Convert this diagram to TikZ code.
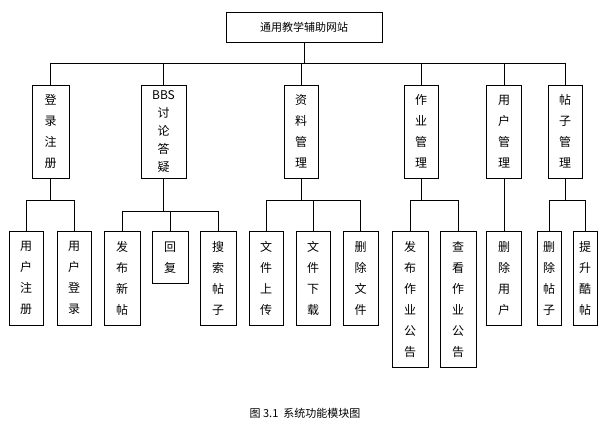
\documentclass[tikz,border=0pt]{standalone}
\usepackage{fontspec}
\setmainfont{Noto Sans CJK SC}
\tikzset{
  box/.style={draw, semithick, align=center, inner sep=0pt, font=\fontsize{12}{21}\selectfont},
  link/.style={draw, semithick}
}
\begin{document}
\begin{tikzpicture}[x=1pt,y=-1pt]
\useasboundingbox (0,0) rectangle (611,436);
% root
\node[box, minimum width=156, minimum height=30, font=\fontsize{11}{13}\selectfont] (root) at (304,27) {通用教学辅助网站};
% level 2
\node[box, minimum width=37, minimum height=93] (login) at (50.5,131.5) {登\\录\\注\\册};
\node[box, minimum width=45, minimum height=93, font=\fontsize{12}{18}\selectfont] (bbs) at (163.5,131.5) {BBS\\讨\\论\\答\\疑};
\node[box, minimum width=34, minimum height=93] (res) at (301,131.5) {资\\料\\管\\理};
\node[box, minimum width=34, minimum height=93] (hw) at (421,131.5) {作\\业\\管\\理};
\node[box, minimum width=35, minimum height=93] (user) at (504,131.5) {用\\户\\管\\理};
\node[box, minimum width=34, minimum height=93] (post) at (565,131.5) {帖\\子\\管\\理};
% level 3
\node[box, minimum width=34, minimum height=94, anchor=north] (reg) at (26,231) {用\\户\\注\\册};
\node[box, minimum width=34, minimum height=94, anchor=north] (ulog) at (74,231) {用\\户\\登\\录};
\node[box, minimum width=36, minimum height=94, anchor=north] (newp) at (122,231) {发\\布\\新\\帖};
\node[box, minimum width=36, minimum height=52, anchor=north] (reply) at (170,231) {回\\复};
\node[box, minimum width=36, minimum height=94, anchor=north] (search) at (218,231) {搜\\索\\帖\\子};
\node[box, minimum width=34, minimum height=94, anchor=north] (up) at (266,231) {文\\件\\上\\传};
\node[box, minimum width=34, minimum height=94, anchor=north] (down) at (313,231) {文\\件\\下\\载};
\node[box, minimum width=35, minimum height=94, anchor=north] (delf) at (360.5,231) {删\\除\\文\\件};
\node[box, minimum width=36, minimum height=136, anchor=north] (pubhw) at (410,231) {发\\布\\作\\业\\公\\告};
\node[box, minimum width=36, minimum height=136, anchor=north] (viewhw) at (458,231) {查\\看\\作\\业\\公\\告};
\node[box, minimum width=35, minimum height=94, anchor=north] (delu) at (504,231) {删\\除\\用\\户};
\node[box, minimum width=24, minimum height=94, anchor=north] (delp) at (549,231) {删\\除\\帖\\子};
\node[box, minimum width=24, minimum height=94, anchor=north] (top) at (585,231) {提\\升\\酷\\帖};
% connectors
\foreach \n in {login,bbs,res,hw,user,post}
  \draw[link] (root.south) -- ++(0,21) -| (\n.north);
\foreach \p/\c in {login/reg,login/ulog,res/up,res/down,res/delf,hw/pubhw,hw/viewhw,post/delp,post/top}
  \draw[link] (\p.south) -- ++(0,21.5) -| (\c.north);
\foreach \c in {newp,reply,search}
  \draw[link] (bbs.south) -- ++(0,33) -| (\c.north);
\draw[link] (user.south) -- (delu.north);
% caption
\node[font=\fontsize{11}{13}\selectfont] (cap) at (305,413) {图 3.1\ \ 系统功能模块图};
\end{tikzpicture}
\end{document}
